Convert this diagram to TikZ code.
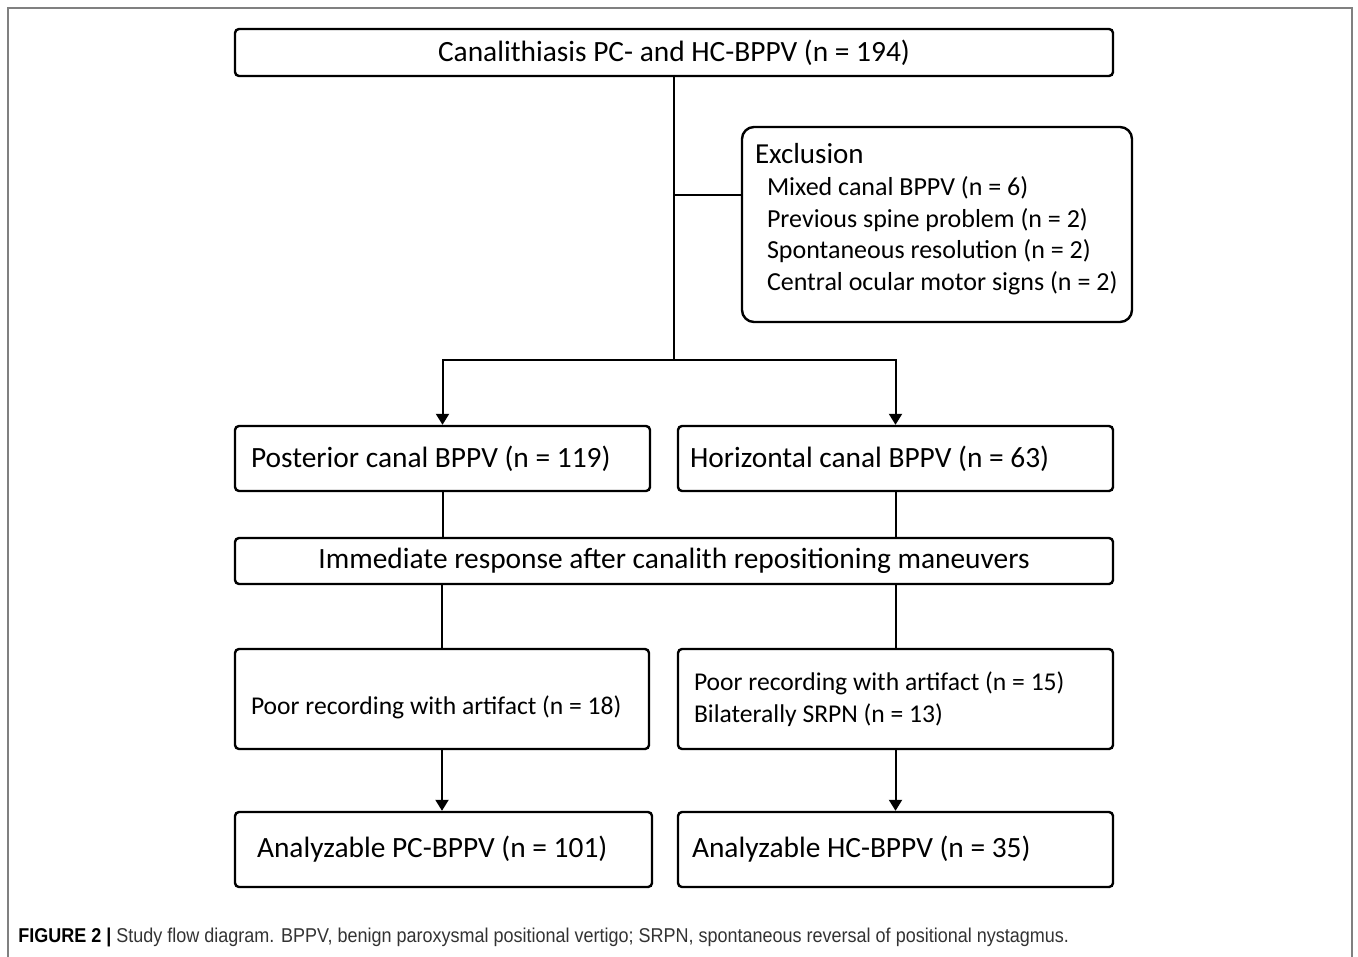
\documentclass[tikz,border=0pt]{standalone}
\usepackage{fontspec}
\setmainfont{Carlito}
\newfontfamily\capfont[FakeStretch=0.9]{Liberation Sans}
\usetikzlibrary{arrows.meta,positioning}

\begin{document}
\begin{tikzpicture}
      [x = 0.5pt, y = -0.5pt,
      box/.style= {
         draw,
         line width = 1.2pt,
         rounded corners = 2pt,
         inner sep = 0pt,
         font = \fontsize{14.7}{16}\selectfont
      },
      leftbox/.style= {
         box,
         align = flush left,
         inner xsep = 8pt
      },
      conn/.style= {line width = 1pt},
      arrow/.style= {conn, -{Triangle[width = 6.5pt, length = 5.5pt]}}]
      \useasboundingbox (0, 0) rectangle (1358, 957);
      \draw[gray, line width = 0.8pt] (8, 957) -- (8, 8) -- (1352, 8) -- (1352, 957);

      \node[box, minimum width = 439pt, minimum height = 23.5pt] (top) at (674, 52.5)
         {Canalithiasis PC- and HC-BPPV (n = 194)};
      \node[box, rounded corners = 6pt, align = flush left, text width = 182pt, inner xsep = 6.5pt,
         minimum height = 97.5pt, font = \fontsize{13}{15.75}\selectfont] (excl) at (937, 224.5)
         {{\fontsize{14.5}{15}\selectfont Exclusion}\\[0.5pt]
          \hspace*{6pt}Mixed canal BPPV (n = 6)\\
          \hspace*{6pt}Previous spine problem (n = 2)\\
          \hspace*{6pt}Spontaneous resolution (n = 2)\\
          \hspace*{6pt}Central ocular motor signs (n = 2)\rule[-8pt]{0pt}{0pt}};

      \node[leftbox, text width = 191.5pt, minimum height = 32.5pt] (pc) at (442.5, 458.5)
         {Posterior canal BPPV (n = 119)};
      \node[leftbox, text width = 205.5pt, inner xsep = 6pt, minimum height = 32.5pt] (hc) at (895.5, 458.5)
         {Horizontal canal BPPV (n = 63)};

      \node[box, minimum width = 439pt, minimum height = 23pt] (imm) at (674, 561)
         {Immediate response after canalith repositioning maneuvers};

      \node[leftbox, text width = 191pt, minimum height = 50pt, font = \fontsize{12.8}{16}\selectfont] (poorpc) at (442, 699)
         {\rule{0pt}{18pt}Poor recording with artifact (n = 18)};
      \node[leftbox, text width = 201.5pt, minimum height = 50pt, font = \fontsize{12.8}{16}\selectfont] (poorhc) at (895.5, 699)
         {Poor recording with artifact (n = 15)\\Bilaterally SRPN (n = 13)};

      \node[leftbox, text width = 186.5pt, inner xsep = 11pt, minimum height = 37.5pt] (anpc) at (443.5, 849.5)
         {Analyzable PC-BPPV (n = 101)};
      \node[leftbox, text width = 203.5pt, inner xsep = 7pt, minimum height = 37.5pt] (anhc) at (895.5, 849.5)
         {Analyzable HC-BPPV (n = 35)};

      % connectors
      \coordinate (split) at (674, 360);
      \coordinate (exclin) at ([yshift = 14.75pt]excl.west);
      \draw[conn] (top.south) -- (split);
      \draw[conn] (top.south |- exclin) -- (exclin);
      \draw[arrow] (split) -| (pc.north);
      \draw[arrow] (split) -| (hc.north);
      \draw[conn] (pc.south) -- (pc.south |- imm.north);
      \draw[conn] (hc.south) -- (hc.south |- imm.north);
      \draw[conn] (imm.south -| poorpc.north) -- (poorpc.north);
      \draw[conn] (imm.south -| poorhc.north) -- (poorhc.north);
      \draw[arrow] (poorpc.south) -- (poorpc.south |- anpc.north);
      \draw[arrow] (poorhc.south) -- (poorhc.south |- anhc.north);

      \node[anchor = west, inner sep = 0pt] (caption) at (18, 937)
         {\capfont\fontsize{10}{12}\selectfont\textbf{FIGURE 2 |} \color{black!80}Study flow diagram. BPPV, benign paroxysmal positional vertigo; SRPN, spontaneous reversal of positional nystagmus.};
\end{tikzpicture}
\end{document}
